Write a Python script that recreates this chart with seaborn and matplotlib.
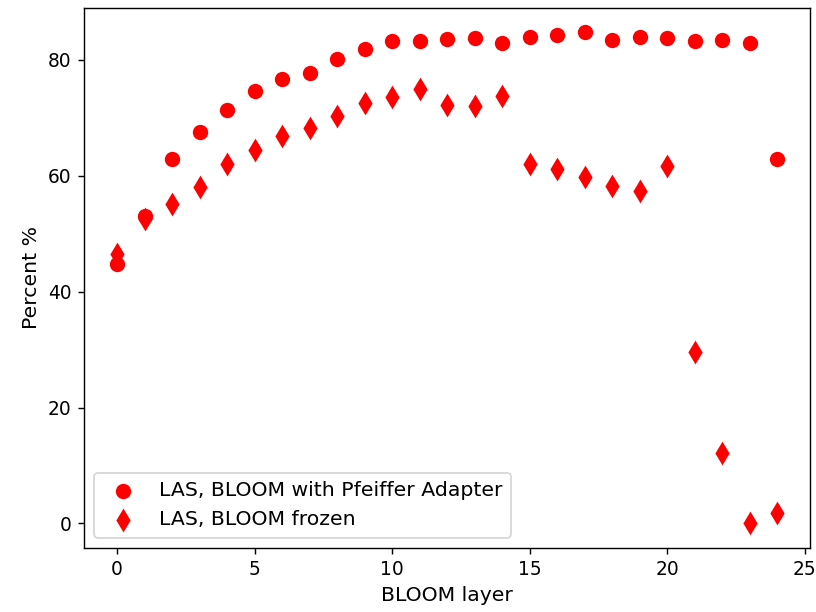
import matplotlib
matplotlib.use("Agg")
import matplotlib.pyplot as plt
import seaborn as sns
import pandas as pd

# BLOOM layers 0..24
layers = list(range(25))
adapter = [44.8, 53.0, 62.8, 67.6, 71.4, 74.6, 76.6, 77.7, 80.2, 81.9, 83.2, 83.2,
           83.5, 83.7, 82.9, 83.9, 84.2, 84.7, 83.4, 83.9, 83.7, 83.2, 83.4, 82.9, 62.8]
frozen = [46.5, 52.5, 55.2, 58.0, 62.0, 64.5, 66.8, 68.3, 70.3, 72.6, 73.6, 74.9,
          72.2, 72.1, 73.8, 62.0, 61.2, 59.8, 58.2, 57.4, 61.7, 29.5, 12.1, 0.05, 1.8]

df = pd.DataFrame({"layer": layers, "adapter": adapter, "frozen": frozen})

fig, ax = plt.subplots(figsize=(6.4, 4.8), dpi=127.5)
sns.scatterplot(data=df, x="layer", y="adapter", marker="o", color="red", s=75,
                linewidth=0, label="LAS, BLOOM with Pfeiffer Adapter", ax=ax)
sns.scatterplot(data=df, x="layer", y="frozen", marker="d", color="red", s=90,
                linewidth=0, label="LAS, BLOOM frozen", ax=ax)

ax.set_xlabel("BLOOM layer", fontsize=11.5)
ax.set_ylabel("Percent %", fontsize=11.5)
ax.set_xticks([0, 5, 10, 15, 20, 25])
ax.tick_params(labelsize=10.5)
ax.legend(loc="lower left", fontsize=11.5)

plt.subplots_adjust(left=0.103, right=0.993, top=0.987, bottom=0.105)
plt.savefig("out.png", dpi=127.5)
